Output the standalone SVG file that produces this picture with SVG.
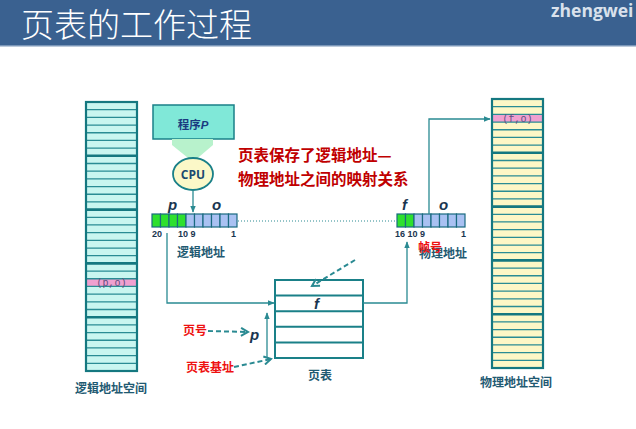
<svg xmlns="http://www.w3.org/2000/svg" width="636" height="429" viewBox="0 0 636 429">
<style>
.cjk{font-family:"Noto Sans CJK SC","Noto Sans",sans-serif;}
.lbl{font-family:"Noto Sans CJK SC",sans-serif;font-weight:bold;font-size:12px;fill:#1f5a72;}
.red{font-family:"Noto Sans CJK SC",sans-serif;font-weight:bold;font-size:12px;fill:#ee1111;}
.cap{font-family:"Noto Sans CJK SC",sans-serif;font-weight:bold;font-size:15.5px;fill:#c00000;}
.it{font-family:"Liberation Sans",Arial,sans-serif;font-style:italic;font-weight:bold;font-size:15px;fill:#1a3550;}
.num{font-family:"Liberation Sans",Arial,sans-serif;font-weight:bold;font-size:9px;fill:#1a3550;}
.thin{fill:none;stroke:#2a8c94;stroke-width:1.3;}
.thick{fill:none;stroke:#157880;stroke-width:2.6;}
.frame{fill:none;stroke:#157880;stroke-width:2.2;}
.conn{fill:none;stroke:#2a8a92;stroke-width:1.3;}
.dash{fill:none;stroke:#2a8a92;stroke-width:2;stroke-dasharray:5 3;}
.cg{fill:#2ee02e;stroke:#1a6a80;stroke-width:1.2;}
.cb{fill:#a9c1f2;stroke:#1a6a80;stroke-width:1.2;}
.pink{fill:#f0a0d0;}
.pt{font-family:"Liberation Mono",monospace;font-size:10px;fill:#5e4e80;}
</style>
<defs>
<marker id="ah" viewBox="0 0 10 10" refX="9" refY="5" markerWidth="7" markerHeight="7" orient="auto" markerUnits="userSpaceOnUse">
<path d="M0 1L10 5L0 9Z" fill="#2a8a92"/>
</marker>
<marker id="chev" viewBox="0 0 10 10" refX="8" refY="5" markerWidth="10" markerHeight="10" orient="auto" markerUnits="userSpaceOnUse">
<path d="M1 1L8 5L1 9" fill="none" stroke="#2a8a92" stroke-width="2"/>
</marker>
<path id="thinlines" d="M0 7.69H51M0 15.37H51M0 23.06H51M0 30.74H51M0 38.43H51M0 46.11H51M0 61.49H51M0 69.17H51M0 76.86H51M0 84.54H51M0 92.23H51M0 99.91H51M0 115.29H51M0 122.97H51M0 130.66H51M0 138.34H51M0 146.03H51M0 153.71H51M0 169.09H51M0 176.77H51M0 184.46H51M0 192.14H51M0 199.83H51M0 207.51H51M0 222.89H51M0 230.57H51M0 238.26H51M0 245.94H51M0 253.63H51M0 261.31H51"/>
<path id="thicklines" d="M0 53.8H51M0 107.6H51M0 161.4H51M0 215.2H51"/>
</defs>

<rect width="636" height="429" fill="#ffffff"/>
<g id="header">
<rect x="0" y="0" width="636" height="45" fill="#3a6190"/>
<rect x="0" y="45" width="636" height="1.5" fill="#7a96b8"/>
<text x="21" y="37" class="cjk" font-size="33" fill="#ffffff" font-weight="300">页表的工作过程</text>
<text x="551" y="17" font-family="'Open Sans',sans-serif" font-weight="bold" font-size="17.5" fill="#d9e1ec">zhengwei</text>
</g>

<g id="logical-space">
<g transform="translate(86,102)">
<rect x="0" y="0" width="51" height="269" fill="#c9f6f0"/>
<rect x="0" y="176.77" width="51" height="7.69" class="pink"/>
<use href="#thinlines" class="thin"/>
<use href="#thicklines" class="thick"/>
<rect x="0" y="0" width="51" height="269" class="frame"/>
<text x="25.5" y="184" text-anchor="middle" class="pt">(p,o)</text>
</g>
<text x="111" y="393" text-anchor="middle" class="lbl">逻辑地址空间</text>
</g>

<g id="physical-space">
<g transform="translate(492,99)">
<rect x="0" y="0" width="51" height="269" fill="#fdf7c6"/>
<rect x="0" y="15.37" width="51" height="7.69" class="pink"/>
<use href="#thinlines" class="thin"/>
<use href="#thicklines" class="thick"/>
<rect x="0" y="0" width="51" height="269" class="frame"/>
<text x="25.5" y="22.5" text-anchor="middle" class="pt">(f,o)</text>
</g>
<text x="516" y="387" text-anchor="middle" class="lbl">物理地址空间</text>
</g>

<g id="program">
<rect x="153" y="105" width="81" height="34" fill="#80e8d8" stroke="#1a8088" stroke-width="1.5"/>
<text x="193" y="129" text-anchor="middle" class="cjk" font-size="11.5" font-weight="bold" fill="#1a3a80">程序<tspan font-family="'Liberation Sans',Arial,sans-serif" font-style="italic">P</tspan></text>
</g>

<g id="big-arrow">
<polygon points="172,139 213,139 213,145 193,162 172,145" fill="#b8f2cc"/>
</g>

<g id="cpu">
<ellipse cx="193" cy="174" rx="20" ry="16" fill="#fbf8c8" stroke="#1a8088" stroke-width="1.8"/>
<text x="193" y="178.5" text-anchor="middle" font-family="'Open Sans','Liberation Sans',sans-serif" font-weight="bold" font-size="12" fill="#1a4a70">CPU</text>
</g>

<g id="caption">
<text x="238" y="161" class="cap">页表保存了逻辑地址—</text>
<text x="238" y="185" class="cap">物理地址之间的映射关系</text>
</g>

<g id="logical-address">
<rect x="152" y="214" width="8.5" height="13" class="cg"/>
<rect x="160.5" y="214" width="8.5" height="13" class="cg"/>
<rect x="169" y="214" width="8.5" height="13" class="cg"/>
<rect x="177.5" y="214" width="8.5" height="13" class="cg"/>
<rect x="186" y="214" width="8.5" height="13" class="cb"/>
<rect x="194.5" y="214" width="8.5" height="13" class="cb"/>
<rect x="203" y="214" width="8.5" height="13" class="cb"/>
<rect x="211.5" y="214" width="8.5" height="13" class="cb"/>
<rect x="220" y="214" width="8.5" height="13" class="cb"/>
<rect x="228.5" y="214" width="8.5" height="13" class="cb"/>
<text x="168" y="210" class="it">p</text>
<text x="212" y="210" class="it">o</text>
<text x="152" y="237" class="num">20</text>
<text x="178" y="237" class="num">10 9</text>
<text x="231" y="237" class="num">1</text>
<text x="177" y="257" class="lbl" font-size="11.5">逻辑地址</text>
</g>

<g id="physical-address">
<rect x="397" y="214" width="8.5" height="13" class="cg"/>
<rect x="405.5" y="214" width="8.5" height="13" class="cg"/>
<rect x="414" y="214" width="8.5" height="13" class="cb"/>
<rect x="422.5" y="214" width="8.5" height="13" class="cb"/>
<rect x="431" y="214" width="8.5" height="13" class="cb"/>
<rect x="439.5" y="214" width="8.5" height="13" class="cb"/>
<rect x="448" y="214" width="8.5" height="13" class="cb"/>
<rect x="456.5" y="214" width="8.5" height="13" class="cb"/>
<text x="402" y="210" class="it">f</text>
<text x="439" y="210" class="it">o</text>
<text x="395" y="237" class="num">16 10 9</text>
<text x="461" y="237" class="num">1</text>
<text x="419" y="258" class="lbl" font-size="11.5">物理地址</text>
<text x="418" y="252" class="red" font-size="11.5">帧号</text>
</g>

<g id="page-table">
<rect x="275" y="280" width="88" height="78" fill="#ffffff" stroke="#1a8088" stroke-width="2"/>
<path d="M275 295.6H363M275 311.2H363M275 326.8H363M275 342.4H363" stroke="#1a8088" stroke-width="2" fill="none"/>
<text x="314" y="309" class="it" font-weight="normal">f</text>
<text x="320" y="380" text-anchor="middle" class="lbl" font-size="12.5">页表</text>
</g>

<g id="labels">
<text x="183" y="335" class="red">页号</text>
<text x="186" y="372" class="red">页表基址</text>
<text x="250" y="340" class="it" font-weight="normal" font-size="16">p</text>
</g>

<g id="connectors">
<line x1="193" y1="190" x2="193" y2="212" class="conn" marker-end="url(#ah)"/>
<line x1="238" y1="221" x2="396" y2="221" stroke="#2a8a92" stroke-width="1" stroke-dasharray="1 2"/>
<polyline points="167,233 167,303 274,303" class="conn" marker-end="url(#ah)"/>
<polyline points="363,303 407,303 407,242" class="conn" marker-end="url(#ah)"/>
<polyline points="429,214 429,119 490,119" class="conn" marker-end="url(#ah)"/>
<line x1="267" y1="358" x2="267" y2="313" class="conn" marker-end="url(#ah)"/>
<line x1="355" y1="260" x2="312" y2="286" class="dash" marker-end="url(#chev)"/>
<line x1="208" y1="331" x2="248" y2="332" class="dash" marker-end="url(#chev)"/>
<line x1="234" y1="367" x2="271" y2="359" class="dash" marker-end="url(#chev)"/>
</g>
</svg>
